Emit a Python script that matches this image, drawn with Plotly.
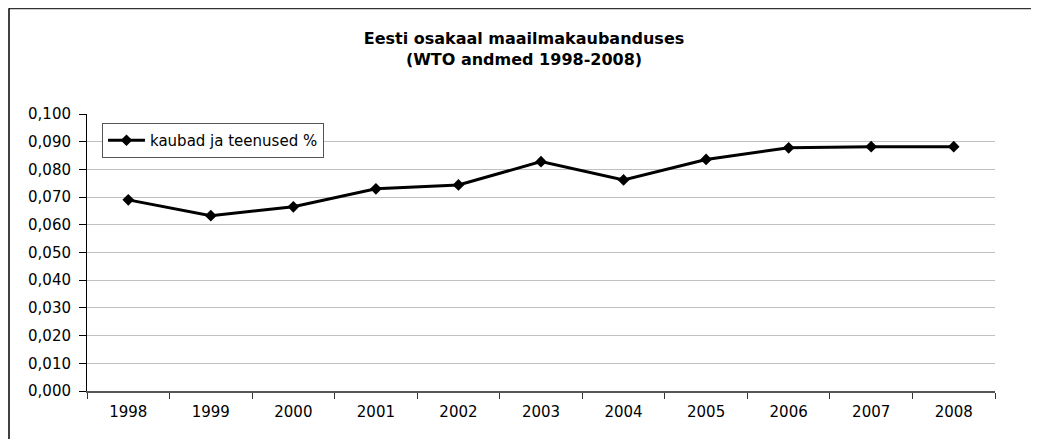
import plotly.graph_objects as go

years = ["1998", "1999", "2000", "2001", "2002", "2003", "2004", "2005", "2006", "2007", "2008"]
share = [0.0690, 0.0633, 0.0665, 0.0730, 0.0744, 0.0828, 0.0762, 0.0836, 0.0878, 0.0882, 0.0882]
series_name = "kaubad ja teenused %"
title_text = "<b>Eesti osakaal maailmakaubanduses<br>(WTO andmed 1998-2008)</b>"

# the page body adds an 8px offset, so the figure is a bit smaller than the window
W, H = 1031, 431

fig = go.Figure()
fig.add_trace(go.Scatter(
    x=years, y=share, name=series_name, mode="lines+markers",
    line=dict(color="black", width=3),
    marker=dict(symbol="diamond", size=9, color="black"),
))

fig.update_layout(
    width=W, height=H,
    margin=dict(l=79, r=44, t=106, b=48),
    paper_bgcolor="white", plot_bgcolor="white",
    font=dict(family="DejaVu Sans, Arial, sans-serif", size=15, color="black"),
    separators=", ",
    showlegend=True,
    title=dict(text=title_text, x=516 / W, xanchor="center", xref="container",
               y=1 - 36 / H, yanchor="middle", yref="container",
               font=dict(size=16, color="black")),
    legend=dict(x=0.0165, y=0.9675, xanchor="left", yanchor="top",
                bordercolor="#555555", borderwidth=1, bgcolor="white",
                font=dict(size=15), itemwidth=37,
                tracegroupgap=0),
)

fig.update_xaxes(
    type="category", range=[-0.5, 10.5], tickson="boundaries",
    ticks="outside", ticklen=6, tickcolor="#333333",
    showline=True, linecolor="#555555", linewidth=1.5,
    showgrid=False, ticklabelstandoff=6,
)
fig.update_yaxes(
    range=[0, 0.1], dtick=0.01, tickformat=".3f",
    ticks="outside", ticklen=7, tickcolor="black",
    showline=True, linecolor="black", linewidth=1,
    showgrid=True, gridcolor="#c0c0c0", gridwidth=1,
    zeroline=False, ticklabelstandoff=5,
)

# outer chart border (only top and left edges fall inside the picture)
fig.add_shape(type="line", xref="paper", yref="paper",
              x0=-0.0859, x1=1.2, y0=1.3814, y1=1.3814,
              line=dict(color="#333333", width=2))
fig.add_shape(type="line", xref="paper", yref="paper",
              x0=-0.0859, x1=-0.0859, y0=-0.3, y1=1.3814,
              line=dict(color="black", width=1.5))

fig.write_html("out.html")
